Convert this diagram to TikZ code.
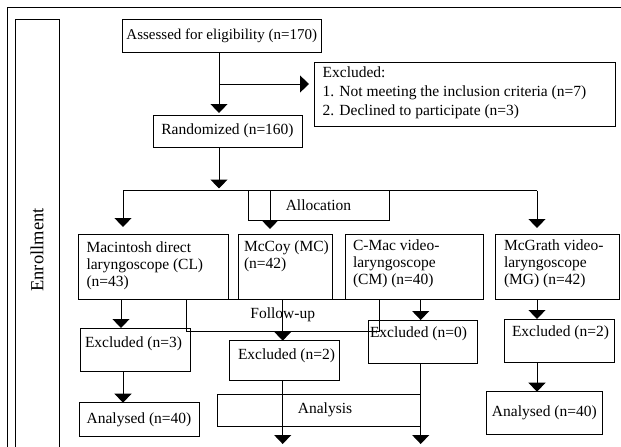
\documentclass[tikz,border=0pt]{standalone}
\usepackage{fontspec}
\setmainfont{Liberation Serif}
\usetikzlibrary{arrows.meta}
\newcommand\myfs{\fontsize{15.5}{16.8}\selectfont}
\begin{document}
\begin{tikzpicture}[x=1pt,y=-1pt,line width=1pt,
  box/.style={draw, inner sep=0pt, outer sep=0pt, anchor=north west, font=\myfs},
  txt/.style={inner sep=0pt, outer sep=0pt, anchor=north west, align=left, font=\myfs},
  arr/.style={-{Triangle[width=17pt,length=9pt]}}]
\useasboundingbox (0,0) rectangle (621,447);
% frame
\draw (7,447) -- (7,7) -- (621,7);
\draw (15,447) -- (15,19.5) -- (59,19.5) -- (59,447);
\node[rotate=90, inner sep=0pt, font=\fontsize{18.5}{20}\selectfont] (enr) at (37,250) {Enrollment};
% top part
\node[box, font=\fontsize{15}{16.8}\selectfont, minimum width=199.5pt, minimum height=32.5pt] (assess) at (122,19.5) {Assessed for eligibility (n=170)};
\node[box, minimum width=301pt, minimum height=64pt] (excl) at (314,62) {};
\node[txt, font=\fontsize{15.5}{18.7}\selectfont] (excltxt) at (322.7,67.2) {Excluded:\\1. Not meeting the inclusion criteria (n=7)\\2. Declined to participate (n=3)};
\node[box, minimum width=149pt, minimum height=32pt] (rand) at (153,115) {Randomized (n=160)};
\node[box, minimum width=141pt, minimum height=30pt] (alloc) at (248,190.5) {Allocation};
% row 1
\node[box, minimum width=149.5pt, minimum height=65pt] (mac) at (78.5,234) {};
\node[txt] (mactxt) at (86.5,242.2) {Macintosh direct\\laryngoscope (CL)\\(n=43)};
\node[box, minimum width=94pt, minimum height=65pt] (mccoy) at (238,234) {};
\node[txt] (mccoytxt) at (244,240.7) {McCoy (MC)\\(n=42)};
\node[box, minimum width=137.3pt, minimum height=65pt] (cmac) at (345.7,234) {};
\node[txt] (cmactxt) at (353,239.7) {C-Mac video-\\laryngoscope\\(CM) (n=40)};
\node[box, minimum width=123.3pt, minimum height=65pt] (mcg) at (495.7,234) {};
\node[txt] (mcgtxt) at (504,239.7) {McGrath video-\\laryngoscope\\(MG) (n=42)};
% follow-up
\node[box, minimum width=192.5pt, minimum height=32pt] (follow) at (186.5,299) {Follow-up};
% row 2
\node[box, minimum width=110pt, minimum height=43.7pt] (ex3) at (80,328) {};
\node[txt] (ex3txt) at (85,336.5) {Excluded (n=3)};
\node[box, minimum width=110pt, minimum height=39.3pt] (ex2) at (229,340.7) {};
\node[txt] (ex2txt) at (238,349.2) {Excluded (n=2)};
\node[box, minimum width=109.7pt, minimum height=43pt] (ex0) at (368,320) {};
\node[txt] (ex0txt) at (370,326.5) {Excluded (n=0)};
\node[box, minimum width=110pt, minimum height=43.7pt] (exr) at (504,319) {};
\node[txt] (exrtxt) at (512,325.9) {Excluded (n=2)};
% row 3
\node[box, minimum width=120pt, minimum height=33.3pt] (anl) at (79,402.7) {Analysed (n=40)};
\node[box, minimum width=203pt, minimum height=32.7pt] (analysis) at (217.7,394) {};
\node[font=\myfs, inner sep=0pt] (analysistxt) at (325,409.5) {Analysis};
\node[box, minimum width=116.7pt, minimum height=42.3pt] (anr) at (486,391.7) {Analysed (n=40)};
% connectors
\coordinate (b1) at (219,84);
\draw[arr, shorten >=2pt] (assess.south -| b1) -- (rand.north -| b1);
\draw[arr, shorten >=5pt] (b1) -- (excl.west |- b1);
\coordinate (b2) at (219,190.5);
\coordinate (hl) at (123,190.5);
\coordinate (hr) at (537,190.5);
\coordinate (b3) at (270,190.5);
\draw[arr, shorten >=2pt] (rand.south -| b2) -- (b2);
\draw (hl) -- (hr);
\draw[arr, shorten >=7pt] (hl) -- (mac.north -| hl);
\draw[arr, shorten >=6pt] (hr) -- (mcg.north -| hr);
\draw[arr, shorten >=5pt] (b3) -- (mccoy.north -| b3);
\coordinate (x1) at (121,0);
\coordinate (x2) at (123,0);
\coordinate (x3) at (282.7,0);
\coordinate (x4) at (420.7,0);
\coordinate (x5) at (537,0);
\draw[arr] (mac.south -| x1) -- (ex3.north -| x1);
\draw[arr] (ex3.south -| x2) -- (anl.north -| x2);
\draw[arr] (mccoy.south -| x3) -- (ex2.north -| x3);
\draw[arr] (cmac.south -| x4) -- (ex0.north -| x4);
\draw[arr] (mcg.south -| x5) -- (exr.north -| x5);
\draw[arr] (exr.south -| x5) -- (anr.north -| x5);
\coordinate (e2) at (282.7,444);
\coordinate (e0) at (420.7,444);
\draw[arr] (ex2.south -| e2) -- (e2);
\draw[arr] (ex0.south -| e0) -- (e0);
\end{tikzpicture}
\end{document}
